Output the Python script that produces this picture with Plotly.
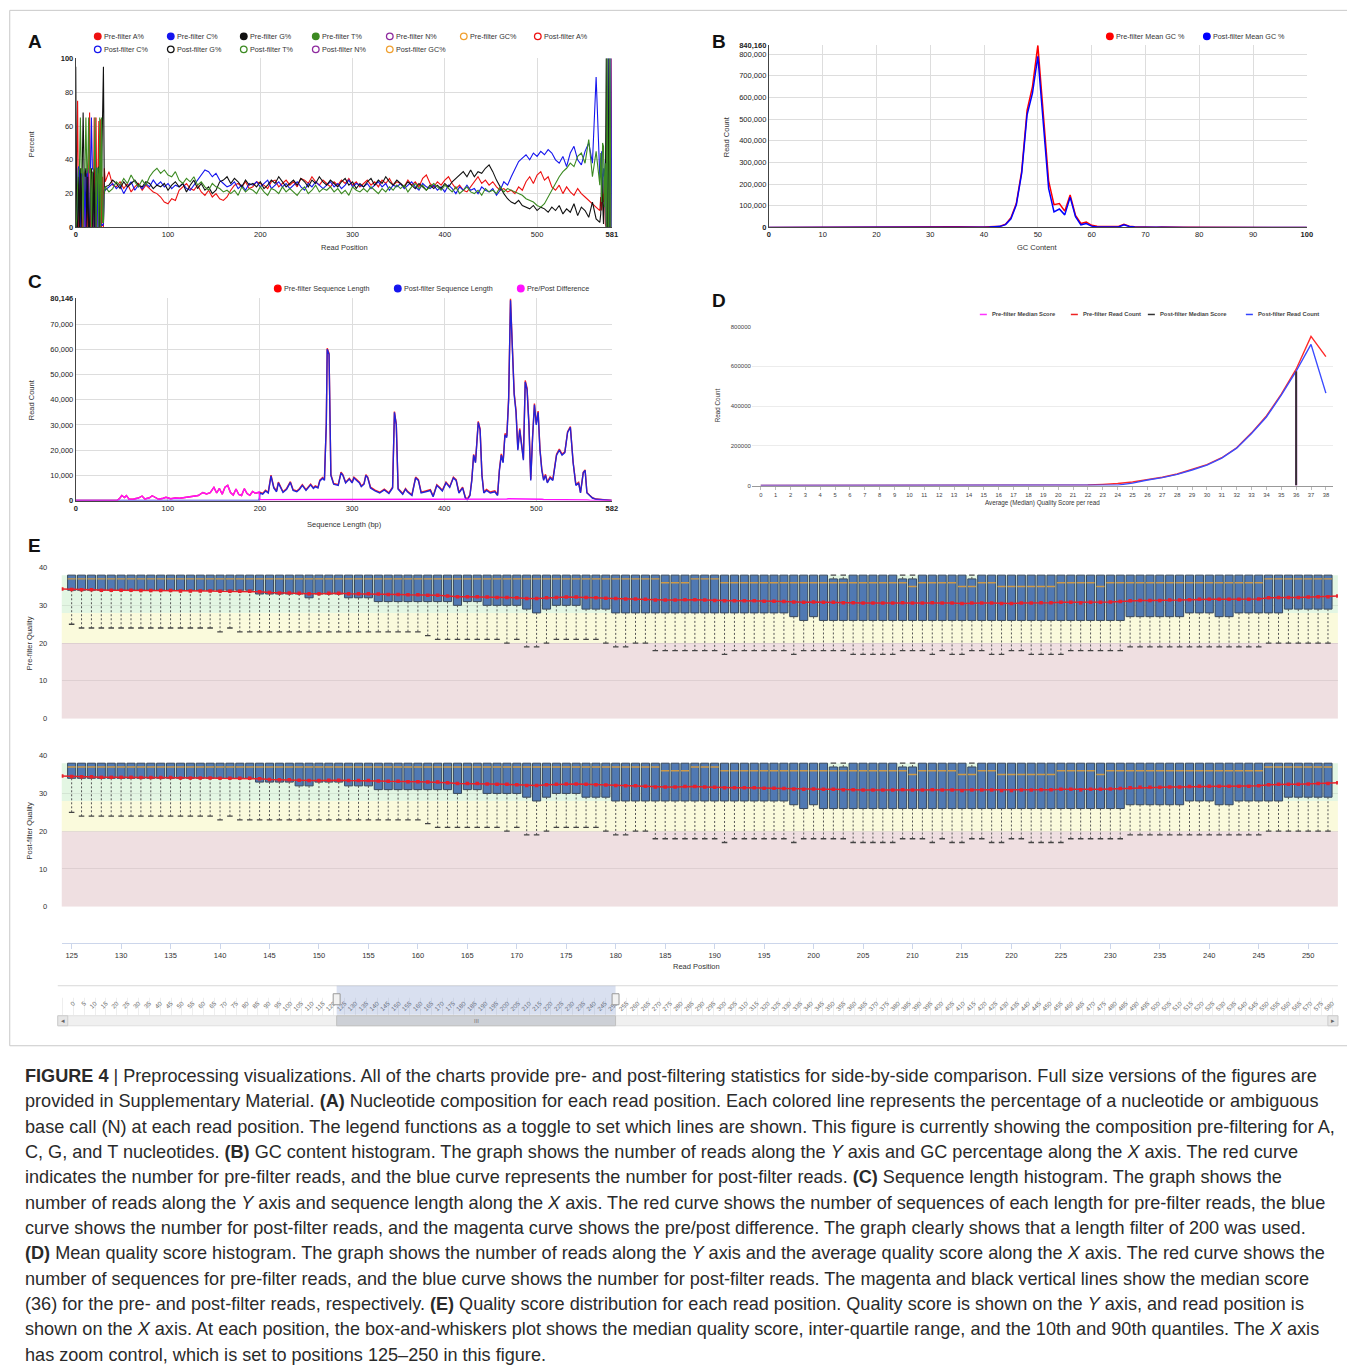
import plotly.graph_objects as go

OFF = 8  # default body margin of the written page
W, H = 1355, 1362
# small correction measured between page pixels and the photographed picture
SX, AX = 0.994, 2.3
SY, AY = 0.993, 3.7
FONT = "Liberation Sans, Arial, Helvetica, sans-serif"
CAP_FONT = "Liberation Sans, Arial, Helvetica, sans-serif"

# ================= Panel A: nucleotide composition (pre-filter) =================
A_POS = list(range(0, 32)) + list(range(32, 569, 4)) + list(range(569, 582))
A_PCT_A = [0, 60, 75, 0, 30, 0, 35, 0, 0, 33, 0, 0, 35, 0, 35, 68, 0, 0, 33, 0, 65, 0, 65, 0, 30, 63, 0, 64, 0, 30, 0, 35,
           27, 33, 25, 24, 27, 23, 26, 21, 24, 26,
           22, 25, 23, 21, 20, 18, 15, 14, 17, 16,
           22, 24, 26, 23, 22, 25, 21, 19, 22, 18,
           20, 17, 16, 18, 22, 25, 26, 24, 27, 23,
           24, 27, 26, 25, 23, 27, 28, 24, 26, 28,
           25, 27, 24, 29, 28, 26, 30, 27, 25, 28,
           26, 24, 27, 25, 28, 26, 29, 25, 27, 24,
           26, 28, 25, 27, 24, 28, 26, 29, 25, 27,
           26, 24, 28, 25, 27, 24, 29, 31, 26, 24,
           27, 25, 28, 30, 26, 23, 25, 22, 21, 24,
           27, 30, 26, 28, 25, 27, 24, 22, 23, 21,
           22, 20, 24, 22, 27, 30, 26, 31, 33, 28,
           30, 24, 22, 25, 20, 24, 21, 19, 23, 20,
           18, 16, 14, 12, 10,
           18, 10, 20, 15, 30, 2, 0, 0, 0, 0, 0, 0, 100]
A_PCT_C = [5, 35, 0, 36, 35, 0, 33, 30, 32, 0, 35, 0, 33, 35, 0, 0, 35, 65, 35, 34, 0, 0, 35, 35, 0, 1, 35, 1, 2, 1, 2, 22,
           22, 24, 26, 23, 25, 20, 24, 27, 22, 25,
           23, 26, 24, 28, 25, 27, 24, 26, 23, 25,
           24, 26, 23, 22, 25, 28, 31, 34, 33, 30,
           32, 28, 26, 24, 25, 27, 23, 25, 22, 26,
           25, 27, 24, 26, 28, 23, 25, 27, 24, 26,
           23, 25, 27, 24, 22, 26, 24, 27, 25, 23,
           25, 27, 24, 26, 23, 25, 28, 24, 26, 25,
           24, 26, 23, 25, 27, 24, 26, 22, 25, 24,
           26, 23, 25, 27, 24, 22, 26, 24, 23, 25,
           22, 24, 21, 25, 23, 20, 24, 22, 25, 22,
           23, 20, 24, 22, 21, 23, 19, 22, 27, 25,
           30, 35, 39, 41, 43, 40, 44, 42, 45, 43,
           46, 44, 40, 38, 42, 36, 44, 48, 40, 37,
           45, 50, 38, 89, 30,
           30, 45, 20, 35, 30, 40, 0, 0, 100, 0, 0, 100, 0]
A_PCT_G = [95, 0, 0, 30, 0, 35, 0, 35, 68, 33, 30, 35, 0, 30, 0, 0, 30, 35, 0, 33, 0, 35, 0, 30, 35, 36, 0, 35, 33, 66, 95, 20,
           24, 25, 28, 26, 23, 27, 24, 26, 28, 25,
           24, 27, 26, 23, 25, 24, 26, 22, 25, 27,
           24, 26, 21, 25, 28, 23, 26, 22, 24, 20,
           22, 27, 28, 30, 26, 29, 27, 24, 28, 25,
           26, 24, 27, 23, 25, 28, 26, 30, 27, 24,
           26, 28, 25, 29, 27, 24, 28, 26, 30, 27,
           25, 28, 26, 24, 27, 29, 25, 27, 23, 26,
           24, 27, 29, 25, 28, 26, 30, 27, 25, 28,
           26, 24, 27, 25, 23, 26, 24, 22, 25, 23,
           25, 23, 26, 24, 27, 29, 31, 33, 30, 34,
           30, 33, 32, 35, 37, 33, 28, 24, 20, 17,
           15, 14, 16, 13, 12, 11, 13, 10, 12, 11,
           9, 12, 10, 13, 8, 11, 9, 14, 7, 12,
           10, 6, 15, 5, 3,
           8, 30, 10, 2, 28, 20, 100, 0, 0, 100, 0, 0, 0]
A_PCT_T = [0, 5, 25, 34, 35, 65, 32, 35, 0, 34, 35, 65, 32, 35, 65, 32, 35, 0, 32, 33, 35, 65, 0, 35, 35, 0, 65, 0, 65, 3, 3, 23,
           24, 21, 23, 27, 25, 29, 26, 31, 27, 24,
           28, 25, 30, 33, 35, 32, 34, 31, 30, 33,
           28, 26, 29, 27, 30, 25, 27, 24, 22, 26,
           24, 23, 21, 22, 20, 22, 19, 24, 21, 23,
           22, 20, 24, 21, 19, 23, 22, 20, 24, 21,
           23, 21, 19, 22, 24, 20, 22, 25, 21, 23,
           22, 24, 21, 23, 20, 22, 19, 24, 22, 21,
           23, 21, 24, 22, 20, 23, 21, 24, 22, 25,
           23, 25, 21, 24, 26, 23, 25, 22, 24, 26,
           24, 22, 25, 23, 21, 24, 20, 22, 24, 21,
           20, 22, 19, 23, 21, 22, 20, 24, 21, 23,
           22, 21, 20, 19, 17, 16, 15, 13, 12, 14,
           18, 22, 26, 30, 33, 35, 38, 36, 42, 44,
           38, 52, 30, 45, 25,
           44, 15, 50, 48, 12, 38, 0, 100, 0, 0, 100, 0, 0]
A_X_TICKS = [0, 100, 200, 300, 400, 500, 581]
A_Y_TICKS = [0, 20, 40, 60, 80, 100]
A_LEGEND_ROW1 = [("Pre-filter A%", "#ee1111", True), ("Pre-filter C%", "#1515ee", True),
                 ("Pre-filter G%", "#111111", True), ("Pre-filter T%", "#3c8a22", True),
                 ("Pre-filter N%", "#8e2a9e", False), ("Pre-filter GC%", "#f0a030", False),
                 ("Post-filter A%", "#ee1111", False)]
A_LEGEND_ROW2 = [("Post-filter C%", "#1515ee", False), ("Post-filter G%", "#111111", False),
                 ("Post-filter T%", "#3c8a22", False), ("Post-filter N%", "#8e2a9e", False),
                 ("Post-filter GC%", "#f0a030", False)]

# ================= Panel B: GC content =================
GC_PCT = list(range(0, 101))
GC_PRE = [0, 0, 0, 0, 0, 0, 0, 0, 0, 0,
          0, 0, 0, 0, 0, 0, 0, 0, 0, 0,
          0, 0, 0, 0, 0, 0, 0, 100, 200, 300,
          400, 500, 800, 1500, 3000, 3500, 2500, 1500, 1500, 2000,
          2500, 3000, 4000, 6000, 15000, 45000, 110000, 260000, 540000, 650000,
          840160, 520000, 215000, 105000, 110000, 75000, 150000, 55000, 18000, 25000,
          10000, 5000, 5500, 6000, 5000, 4500, 14000, 6000, 3000, 2000,
          1500, 1200, 1000, 1500, 2000, 1000, 800, 500, 400, 300,
          200, 200, 100, 100, 100, 0, 0, 0, 0, 0,
          0, 0, 0, 0, 0, 0, 0, 0, 0, 0,
          0]
GC_POST = [0, 0, 0, 0, 0, 0, 0, 0, 0, 0,
           0, 0, 0, 0, 0, 0, 0, 0, 0, 0,
           0, 0, 0, 0, 0, 0, 0, 100, 150, 200,
           300, 400, 600, 1200, 2500, 3000, 2000, 1200, 1200, 1500,
           2000, 2500, 3500, 5000, 13000, 40000, 105000, 250000, 520000, 620000,
           790000, 490000, 180000, 72000, 85000, 58000, 140000, 50000, 12000, 18000,
           6000, 2000, 2500, 3000, 2500, 2500, 12000, 4000, 2000, 1500,
           1000, 900, 800, 1200, 1500, 800, 600, 400, 300, 200,
           100, 100, 100, 0, 0, 0, 0, 0, 0, 0,
           0, 0, 0, 0, 0, 0, 0, 0, 0, 0,
           0]
B_X_TICKS = [0, 10, 20, 30, 40, 50, 60, 70, 80, 90, 100]
B_Y_TICKS = [0, 100000, 200000, 300000, 400000, 500000, 600000, 700000, 800000, 840160]

# ================= Panel C: sequence length =================
C_LEN = [0, 45, 48, 50, 53, 55, 58, 63, 68, 72,
         75, 80, 83, 86, 90, 95, 98, 103, 108, 113,
         118, 123, 128, 133, 138, 142, 146, 150, 153, 156,
         159, 162, 165, 168, 171, 174, 177, 180, 183, 186,
         189, 192, 195, 199, 200, 203, 206, 209, 212, 215,
         218, 220, 225, 229, 233, 236, 240, 243, 246, 250,
         255, 258, 260, 263, 265, 268, 270, 272, 273, 275,
         277, 280, 285, 288, 290, 293, 297, 300, 302, 305,
         308, 310, 313, 315, 317, 320, 325, 330, 335, 340,
         344, 346, 348, 350, 355, 358, 360, 365, 369, 372,
         375, 380, 385, 388, 392, 395, 398, 402, 406, 410,
         413, 416, 420, 423, 425, 428, 430, 432, 434, 437,
         439, 441, 443, 446, 450, 455, 458, 460, 462, 464,
         466, 468, 470, 472, 474, 476, 478, 480, 482, 484,
         486, 488, 490, 492, 494, 496, 498, 500, 502, 504,
         506, 508, 510, 512, 515, 518, 522, 525, 528, 531,
         534, 537, 540, 543, 546, 548, 551, 553, 555, 558,
         561, 565, 570, 575, 582]
C_POST = [0, 0, 0, 0, 0, 0, 0, 0, 0, 0,
          0, 0, 0, 0, 0, 0, 0, 0, 0, 0,
          0, 0, 0, 0, 0, 0, 0, 0, 0, 0,
          0, 0, 0, 0, 0, 0, 0, 0, 0, 0,
          0, 0, 0, 0, 3000, 2500, 3800, 3000, 9800, 5000,
          3500, 7000, 3200, 4500, 7200, 4000, 3500, 4500, 6000, 4000,
          6200, 4800, 5500, 5000, 7800, 8800, 8000, 30000, 60000, 58000,
          10000, 6500, 6000, 11000, 10000, 7000, 8500, 7000, 9000, 8000,
          7000, 5500, 6500, 10000, 9000, 5000, 3800, 3000, 4200, 2800,
          5000, 35000, 30000, 4500, 2500, 4500, 3500, 2000, 9000, 8000,
          3000, 3500, 4000, 1500, 6000, 5000, 3800, 7000, 5200, 9000,
          8000, 3000, 5000, 1000, 300, 2000, 8000, 18000, 15000, 31000,
          28000, 10000, 3000, 4000, 3000, 3500, 2000, 12000, 18000, 15000,
          26000, 25000, 40000, 79446, 60000, 42000, 35000, 20000, 28000, 22000,
          16000, 47000, 44000, 30000, 8000, 25000, 38000, 30000, 35000, 20000,
          12000, 8000, 10000, 7000, 9000, 8000, 18000, 20000, 18000, 19000,
          27000, 29000, 15000, 6000, 7000, 3000, 11000, 12000, 3000, 2000,
          1000, 500, 300, 200, 0]
C_DIFF = [0, 0, 1000, 2000, 1200, 2000, 500, 600, 1000, 1800,
          600, 1100, 1900, 1400, 500, 900, 1300, 700, 1000, 900,
          1200, 1300, 1700, 2000, 3200, 2600, 3100, 5200, 3000, 4800,
          2500, 5300, 6000, 3200, 2200, 4600, 2400, 2000, 4700, 2800,
          2100, 3600, 2900, 3400, 300, 300, 300, 300, 300, 300,
          300, 300, 300, 300, 300, 300, 300, 300, 300, 300,
          300, 300, 300, 300, 300, 300, 300, 300, 400, 400,
          300, 300, 300, 300, 300, 300, 300, 300, 300, 300,
          300, 300, 300, 300, 300, 300, 300, 300, 300, 300,
          300, 300, 300, 300, 300, 300, 300, 300, 300, 300,
          300, 300, 300, 300, 300, 300, 300, 300, 300, 300,
          300, 300, 300, 300, 300, 300, 300, 300, 400, 400,
          400, 400, 400, 400, 400, 400, 400, 400, 500, 500,
          600, 600, 700, 700, 700, 700, 700, 600, 600, 600,
          600, 600, 600, 600, 500, 500, 500, 500, 500, 500,
          500, 400, 400, 400, 400, 400, 400, 400, 400, 300,
          300, 300, 300, 300, 200, 200, 200, 200, 200, 100,
          100, 100, 100, 0, 0]
C_PRE = [0, 0, 1000, 2000, 1200, 2000, 500, 600, 1000, 1800,
         600, 1100, 1900, 1400, 500, 900, 1300, 700, 1000, 900,
         1200, 1300, 1700, 2000, 3200, 2600, 3100, 5200, 3000, 4800,
         2500, 5300, 6000, 3200, 2200, 4600, 2400, 2000, 4700, 2800,
         2100, 3600, 2900, 3400, 3300, 2800, 4100, 3300, 10100, 5300,
         3800, 7300, 3500, 4800, 7500, 4300, 3800, 4800, 6300, 4300,
         6500, 5100, 5800, 5300, 8100, 9100, 8300, 30300, 60400, 58400,
         10300, 6800, 6300, 11300, 10300, 7300, 8800, 7300, 9300, 8300,
         7300, 5800, 6800, 10300, 9300, 5300, 4100, 3300, 4500, 3100,
         5300, 35300, 30300, 4800, 2800, 4800, 3800, 2300, 9300, 8300,
         3300, 3800, 4300, 1800, 6300, 5300, 4100, 7300, 5500, 9300,
         8300, 3300, 5300, 1300, 600, 2300, 8300, 18300, 15400, 31400,
         28400, 10400, 3400, 4400, 3400, 3900, 2400, 12400, 18500, 15500,
         26600, 25600, 40700, 80146, 60700, 42700, 35700, 20600, 28600, 22600,
         16600, 47600, 44600, 30600, 8500, 25500, 38500, 30500, 35500, 20500,
         12500, 8400, 10400, 7400, 9400, 8400, 18400, 20400, 18400, 19300,
         27300, 29300, 15300, 6300, 7200, 3200, 11200, 12200, 3200, 2100,
         1100, 600, 400, 200, 0]
C_X_TICKS = [0, 100, 200, 300, 400, 500, 582]
C_Y_TICKS = [0, 10000, 20000, 30000, 40000, 50000, 60000, 70000, 80146]

# ================= Panel D: mean quality score =================
D_SCORE = list(range(0, 39))
D_PRE = [0, 0, 0, 0, 0, 0, 0, 0, 0, 0, 0, 0, 0, 0, 0, 0, 0, 0, 0, 0,
         200, 1000, 3000, 6000, 10000, 18000, 30000, 42000, 58000, 80000,
         105000, 140000, 190000, 265000, 350000, 460000, 585000, 750000, 648000]
D_POST = [0, 0, 0, 0, 0, 0, 0, 0, 0, 0, 0, 0, 0, 0, 0, 0, 0, 0, 0, 0,
          0, 0, 0, 300, 2000, 12000, 28000, 40000, 56000, 78000,
          103000, 138000, 188000, 262000, 345000, 455000, 575000, 710000, 465000]
D_MEDIAN_PRE = 36
D_MEDIAN_POST = 36
D_Y_TICKS = [0, 200000, 400000, 600000, 800000]
D_LEGEND = [("Pre-filter Median Score", "#ff33ff"), ("Pre-filter Read Count", "#ee2222"),
            ("Post-filter Median Score", "#333333"), ("Post-filter Read Count", "#3344ff")]

# ================= Panel E: quality per read position (positions 125-252) =================
E_POS = list(range(125, 253))
E_MEAN_POS = list(range(124, 254))
PRE_W90 = [38, 38, 38, 38, 38, 38, 38, 38, 38, 38, 38, 38, 38, 38, 38, 38, 38, 38, 38, 38,
           38, 38, 38, 38, 38, 38, 38, 38, 38, 38, 38, 38, 38, 38, 38, 38, 38, 38, 38, 38,
           38, 38, 38, 38, 38, 38, 38, 38, 38, 38, 38, 38, 38, 38, 38, 38, 38, 38, 38, 38,
           38, 38, 38, 38, 38, 38, 38, 38, 38, 38, 38, 38, 38, 38, 38, 38, 38, 38, 38, 38,
           38, 38, 38, 38, 38, 38, 38, 38, 38, 38, 38, 38, 38, 38, 38, 38, 38, 38, 38, 38,
           38, 38, 38, 38, 38, 38, 38, 38, 38, 38, 38, 38, 38, 38, 38, 38, 38, 38, 38, 38,
           38, 38, 38, 38, 38, 38, 38, 38]
PRE_Q3 = [38, 38, 38, 38, 38, 38, 38, 38, 38, 38,
          38, 38, 38, 38, 38, 38, 38, 38, 38, 38,
          38, 38, 38, 38, 38, 38, 38, 38, 38, 38,
          38, 38, 38, 38, 38, 38, 38, 38, 38, 38,
          38, 38, 38, 38, 38, 38, 38, 38, 38, 38,
          38, 38, 38, 38, 38, 38, 38, 38, 38, 38,
          38, 38, 38, 38, 38, 38, 38, 38, 38, 38,
          38, 38, 38, 38, 38, 38, 38, 37, 37, 38,
          38, 38, 38, 38, 37, 37, 38, 38, 38, 38,
          38, 37, 38, 38, 38, 38, 38, 38, 38, 38,
          38, 38, 38, 38, 38, 38, 38, 38, 38, 38,
          38, 38, 38, 38, 38, 38, 38, 38, 38, 38,
          38, 38, 38, 38, 38, 38, 38, 38]
PRE_MED = [37, 37, 37, 37, 37, 37, 37, 37, 37, 37,
           37, 37, 37, 37, 37, 37, 37, 37, 37, 37,
           37, 37, 37, 37, 37, 37, 37, 37, 37, 37,
           37, 37, 37, 37, 37, 37, 37, 37, 37, 37,
           37, 37, 37, 37, 37, 37, 37, 37, 37, 37,
           37, 37, 37, 37, 37, 37, 37, 37, 37, 37,
           36, 36, 36, 37, 37, 37, 36, 36, 36, 36,
           36, 36, 36, 36, 36, 36, 36, 36, 36, 36,
           36, 36, 36, 36, 36, 35, 36, 36, 36, 36,
           35, 35, 36, 36, 35, 35, 35, 35, 35, 35,
           36, 36, 36, 36, 35, 36, 36, 36, 36, 36,
           36, 36, 36, 36, 36, 36, 36, 36, 36, 36,
           36, 37, 37, 37, 37, 37, 37, 37]
PRE_Q1 = [34, 34, 34, 34, 34, 34, 34, 34, 34, 34,
          34, 34, 34, 34, 34, 34, 34, 34, 34, 33,
          33, 33, 33, 33, 32, 33, 33, 33, 32, 32,
          32, 31, 31, 31, 31, 31, 31, 31, 31, 30,
          31, 31, 30, 30, 30, 30, 29, 28, 29, 30,
          30, 30, 29, 29, 29, 28, 28, 28, 28, 28,
          28, 28, 28, 28, 28, 28, 28, 28, 28, 28,
          28, 28, 28, 27, 26, 27, 26, 26, 26, 26,
          26, 26, 26, 26, 26, 26, 26, 26, 26, 26,
          26, 26, 26, 26, 26, 26, 26, 26, 26, 26,
          26, 26, 26, 26, 26, 26, 26, 27, 27, 27,
          27, 27, 27, 28, 28, 28, 27, 27, 28, 28,
          28, 28, 28, 29, 29, 29, 29, 29]
PRE_W10 = [25, 24, 24, 24, 24, 24, 24, 24, 24, 24,
           24, 24, 24, 24, 24, 23, 24, 23, 23, 23,
           23, 23, 23, 23, 23, 23, 23, 23, 23, 23,
           23, 23, 23, 23, 23, 23, 22, 21, 21, 21,
           21, 21, 21, 21, 20, 21, 19, 19, 20, 21,
           21, 21, 21, 21, 20, 19, 19, 20, 20, 18,
           18, 18, 18, 18, 18, 18, 17, 18, 18, 18,
           18, 18, 18, 17, 18, 18, 18, 18, 18, 17,
           17, 17, 17, 17, 18, 18, 18, 17, 18, 17,
           17, 18, 18, 17, 17, 18, 18, 17, 17, 17,
           17, 18, 18, 18, 18, 18, 18, 19, 19, 19,
           19, 19, 19, 19, 19, 19, 19, 19, 19, 19,
           19, 20, 20, 20, 20, 20, 20, 20]
PRE_MEAN = [34.3, 34.2, 34.1, 34.1, 34.0, 34.0, 34.0, 34.0, 33.9, 33.9,
            33.9, 33.9, 33.8, 33.8, 33.8, 33.8, 33.7, 33.7, 33.7, 33.7,
            33.6, 33.4, 33.3, 33.3, 33.2, 33.1, 33.1, 33.2, 33.2, 33.1,
            33.1, 33.1, 33.0, 32.9, 32.9, 32.8, 32.8, 32.7, 32.7, 32.5,
            32.3, 32.3, 32.3, 32.2, 32.1, 32.1, 32.0, 31.8, 31.8, 32.0,
            32.1, 32.2, 32.2, 32.1, 32.0, 31.9, 31.8, 31.7, 31.7, 31.6,
            31.4, 31.4, 31.4, 31.5, 31.5, 31.4, 31.3, 31.2, 31.2, 31.2,
            31.2, 31.1, 31.1, 31.0, 30.9, 30.8, 30.9, 30.8, 30.8, 30.7,
            30.7, 30.6, 30.6, 30.6, 30.6, 30.7, 30.6, 30.6, 30.7, 30.6,
            30.6, 30.5, 30.6, 30.6, 30.6, 30.5, 30.5, 30.6, 30.6, 30.7,
            30.7, 30.8, 30.8, 30.7, 30.8, 30.8, 30.9, 31.0, 31.2, 31.3,
            31.3, 31.3, 31.4, 31.4, 31.5, 31.6, 31.6, 31.6, 31.6, 31.6,
            31.6, 31.7, 32.0, 32.1, 32.1, 32.1, 32.2, 32.3, 32.3, 32.5]

POST_W90 = [38, 38, 38, 38, 38, 38, 38, 38, 38, 38, 38, 38, 38, 38, 38, 38, 38, 38, 38, 38,
            38, 38, 38, 38, 38, 38, 38, 38, 38, 38, 38, 38, 38, 38, 38, 38, 38, 38, 38, 38,
            38, 38, 38, 38, 38, 38, 38, 38, 38, 38, 38, 38, 38, 38, 38, 38, 38, 38, 38, 38,
            38, 38, 38, 38, 38, 38, 38, 38, 38, 38, 38, 38, 38, 38, 38, 38, 38, 38, 38, 38,
            38, 38, 38, 38, 38, 38, 38, 38, 38, 38, 38, 38, 38, 38, 38, 38, 38, 38, 38, 38,
            38, 38, 38, 38, 38, 38, 38, 38, 38, 38, 38, 38, 38, 38, 38, 38, 38, 38, 38, 38,
            38, 38, 38, 38, 38, 38, 38, 38]
POST_Q3 = [38, 38, 38, 38, 38, 38, 38, 38, 38, 38,
           38, 38, 38, 38, 38, 38, 38, 38, 38, 38,
           38, 38, 38, 38, 38, 38, 38, 38, 38, 38,
           38, 38, 38, 38, 38, 38, 38, 38, 38, 38,
           38, 38, 38, 38, 38, 38, 38, 38, 38, 38,
           38, 38, 38, 38, 38, 38, 38, 38, 38, 38,
           38, 38, 38, 38, 38, 38, 38, 38, 38, 38,
           38, 38, 38, 38, 38, 38, 38, 37, 37, 38,
           38, 38, 38, 38, 37, 37, 38, 38, 38, 38,
           38, 37, 38, 38, 38, 38, 38, 38, 38, 38,
           38, 38, 38, 38, 38, 38, 38, 38, 38, 38,
           38, 38, 38, 38, 38, 38, 38, 38, 38, 38,
           38, 38, 38, 38, 38, 38, 38, 38]
POST_MED = [37, 37, 37, 37, 37, 37, 37, 37, 37, 37,
            37, 37, 37, 37, 37, 37, 37, 37, 37, 37,
            37, 37, 37, 37, 37, 37, 37, 37, 37, 37,
            37, 37, 37, 37, 37, 37, 37, 37, 37, 37,
            37, 37, 37, 37, 37, 37, 37, 37, 37, 37,
            37, 37, 37, 37, 37, 37, 37, 37, 37, 37,
            36, 36, 36, 37, 37, 37, 36, 36, 36, 36,
            36, 36, 36, 36, 36, 36, 36, 36, 36, 36,
            36, 36, 36, 36, 36, 35, 36, 36, 36, 36,
            35, 35, 36, 36, 35, 35, 35, 35, 35, 35,
            36, 36, 36, 36, 35, 36, 36, 36, 36, 36,
            36, 36, 36, 36, 36, 36, 36, 36, 36, 36,
            36, 37, 37, 37, 37, 37, 37, 37]
POST_Q1 = [34, 34, 34, 34, 34, 34, 34, 34, 34, 34,
           34, 34, 34, 34, 34, 34, 34, 34, 34, 33,
           33, 33, 33, 32, 32, 33, 33, 33, 32, 32,
           32, 31, 31, 31, 31, 31, 31, 31, 31, 30,
           31, 31, 30, 30, 30, 30, 29, 28, 29, 30,
           30, 30, 29, 29, 29, 28, 28, 28, 28, 28,
           28, 28, 28, 28, 28, 28, 28, 28, 28, 28,
           28, 28, 28, 27, 26, 27, 26, 26, 26, 26,
           26, 26, 26, 26, 26, 26, 26, 26, 26, 26,
           26, 26, 26, 26, 26, 26, 26, 26, 26, 26,
           26, 26, 26, 26, 26, 26, 26, 27, 27, 27,
           27, 27, 27, 28, 28, 28, 27, 27, 28, 28,
           28, 28, 28, 29, 29, 29, 29, 29]
POST_W10 = [25, 24, 24, 24, 24, 24, 24, 24, 24, 24,
            24, 24, 24, 24, 24, 23, 24, 23, 23, 23,
            23, 23, 23, 23, 23, 23, 23, 23, 23, 23,
            23, 23, 23, 23, 23, 23, 22, 21, 21, 21,
            21, 21, 21, 21, 20, 21, 19, 19, 20, 21,
            21, 21, 21, 21, 20, 19, 19, 20, 20, 18,
            18, 18, 18, 18, 18, 18, 17, 18, 18, 18,
            18, 18, 18, 17, 18, 18, 18, 18, 18, 17,
            17, 17, 17, 17, 18, 18, 18, 17, 18, 17,
            17, 18, 18, 17, 17, 18, 18, 17, 17, 17,
            17, 18, 18, 18, 18, 18, 18, 19, 19, 19,
            19, 19, 19, 19, 19, 19, 19, 19, 19, 19,
            19, 20, 20, 20, 20, 20, 20, 20]
POST_MEAN = [34.6, 34.5, 34.4, 34.4, 34.3, 34.3, 34.3, 34.3, 34.2, 34.2,
             34.2, 34.2, 34.1, 34.1, 34.1, 34.1, 34.0, 34.0, 34.0, 34.0,
             33.9, 33.7, 33.6, 33.6, 33.5, 33.4, 33.4, 33.5, 33.5, 33.4,
             33.4, 33.4, 33.3, 33.2, 33.2, 33.1, 33.1, 33.0, 33.0, 32.8,
             32.6, 32.6, 32.6, 32.5, 32.4, 32.4, 32.3, 32.1, 32.1, 32.3,
             32.4, 32.5, 32.5, 32.4, 32.3, 32.2, 32.1, 32.0, 32.0, 31.9,
             31.7, 31.7, 31.7, 31.8, 31.8, 31.7, 31.6, 31.5, 31.5, 31.5,
             31.5, 31.4, 31.4, 31.3, 31.2, 31.1, 31.2, 31.1, 31.1, 31.0,
             31.0, 30.9, 30.9, 30.9, 30.9, 31.0, 30.9, 30.9, 31.0, 30.9,
             30.9, 30.8, 30.9, 30.9, 30.9, 30.8, 30.8, 30.9, 30.9, 31.0,
             31.0, 31.1, 31.1, 31.0, 31.1, 31.1, 31.2, 31.3, 31.5, 31.6,
             31.6, 31.6, 31.7, 31.7, 31.8, 31.9, 31.9, 31.9, 31.9, 31.9,
             31.9, 32.0, 32.3, 32.4, 32.4, 32.4, 32.5, 32.6, 32.6, 32.8]
E_Y_TICKS = [0, 10, 20, 30, 40]
E_X_TICKS = list(range(125, 251, 5))
E_BANDS = [(0, 20, "#efdfe1"), (20, 28, "#fafadc"), (28, 38, "#e3f6e3")]
NAV_TICKS = list(range(0, 581, 5))
NAV_SELECTED = (121.3, 249.8)

CAPTION_LINES = [
    "<b>FIGURE 4</b> | Preprocessing visualizations. All of the charts provide pre- and post-filtering statistics for side-by-side comparison. Full size versions of the figures are",
    "provided in Supplementary Material. <b>(A)</b> Nucleotide composition for each read position. Each colored line represents the percentage of a nucleotide or ambiguous",
    "base call (N) at each read position. The legend functions as a toggle to set which lines are shown. This figure is currently showing the composition pre-filtering for A,",
    "C, G, and T nucleotides. <b>(B)</b> GC content histogram. The graph shows the number of reads along the <i>Y</i> axis and GC percentage along the <i>X</i> axis. The red curve",
    "indicates the number for pre-filter reads, and the blue curve represents the number for post-filter reads. <b>(C)</b> Sequence length histogram. The graph shows the",
    "number of reads along the <i>Y</i> axis and sequence length along the <i>X</i> axis. The red curve shows the number of sequences of each length for pre-filter reads, the blue",
    "curve shows the number for post-filter reads, and the magenta curve shows the pre/post difference. The graph clearly shows that a length filter of 200 was used.",
    "<b>(D)</b> Mean quality score histogram. The graph shows the number of reads along the <i>Y</i> axis and the average quality score along the <i>X</i> axis. The red curve shows the",
    "number of sequences for pre-filter reads, and the blue curve shows the number for post-filter reads. The magenta and black vertical lines show the median score",
    "(36) for the pre- and post-filter reads, respectively. <b>(E)</b> Quality score distribution for each read position. Quality score is shown on the <i>Y</i> axis, and read position is",
    "shown on the <i>X</i> axis. At each position, the box-and-whiskers plot shows the median quality score, inter-quartile range, and the 10th and 90th quantiles. The <i>X</i> axis",
    "has zoom control, which is set to positions 125\u2013250 in this figure.",
]


# ================= helpers (target pixels -> figure fractions) =================
def PX(px):
    return ((px - AX) / SX - OFF) / W


def PY(py):
    return 1 - ((py - AY) / SY - OFF) / H


def xdom(a, b):
    return [PX(a), PX(b)]


def ydom(top, bottom):
    return [PY(bottom), PY(top)]


fig = go.Figure()


def add_line(x, y, color, xa, ya, width=1.2, dash=None, mode="lines", marker=None):
    fig.add_trace(go.Scatter(x=x, y=y, mode=mode, line=dict(color=color, width=width, dash=dash),
                             marker=marker, xaxis=xa, yaxis=ya, hoverinfo="skip",
                             showlegend=False, connectgaps=False))


def fmt_int(v):
    return "{:,}".format(v)


def bold_ends(vals, labels):
    out = []
    for i, lab in enumerate(labels):
        out.append("<b>%s</b>" % lab if i in (0, len(vals) - 1) else lab)
    return out


# ---- Panel A traces
for series, color in [(A_PCT_A, "#ee1111"), (A_PCT_C, "#1515ee"), (A_PCT_G, "#111111"), (A_PCT_T, "#3c8a22")]:
    add_line(A_POS, series, color, "x", "y", 1.1)

# ---- Panel B traces
add_line(GC_PCT, GC_PRE, "#ff0000", "x2", "y2", 1.5)
add_line(GC_PCT, GC_POST, "#0000ff", "x2", "y2", 1.5)

# ---- Panel C traces
add_line(C_LEN, C_PRE, "#ff2020", "x3", "y3", 1.4)
add_line(C_LEN, C_POST, "#2323d8", "x3", "y3", 1.4)
add_line(C_LEN, C_DIFF, "#ff10ff", "x3", "y3", 1.4)

# ---- Panel D traces
add_line(D_SCORE, D_PRE, "#ff2a2a", "x4", "y4", 1.4)
add_line(D_SCORE, D_POST, "#3a4bff", "x4", "y4", 1.4)
med_top = D_POST[D_SCORE.index(D_MEDIAN_POST)]
add_line([D_MEDIAN_PRE, D_MEDIAN_PRE], [0, med_top], "#ff33ff", "x4", "y4", 2)
add_line([D_MEDIAN_POST, D_MEDIAN_POST], [0, med_top], "#333333", "x4", "y4", 2)


# ---- Panel E traces
def add_boxes(xa, ya, w90, q3, med, q1, w10, mean):
    fig.add_trace(go.Bar(x=E_POS, y=[b - a for a, b in zip(q1, q3)], base=q1, width=0.82,
                         marker=dict(color="#5079b3", line=dict(color="#38485c", width=1)),
                         xaxis=xa, yaxis=ya, hoverinfo="skip", showlegend=False))
    wx, wy, cx, cy, mx, my = [], [], [], [], [], []
    for p, hi, a3, m, a1, lo in zip(E_POS, w90, q3, med, q1, w10):
        wx += [p, p, None]
        wy += [a1, lo, None]
        cx += [p - 0.28, p + 0.28, None]
        cy += [lo, lo, None]
        if hi > a3:
            wx += [p, p, None]
            wy += [a3, hi, None]
            cx += [p - 0.28, p + 0.28, None]
            cy += [hi, hi, None]
        mx += [p - 0.41, p + 0.41, None]
        my += [m, m, None]
    add_line(wx, wy, "#555555", xa, ya, 1, dash="2px,2px")
    add_line(cx, cy, "#444444", xa, ya, 1.3)
    add_line(mx, my, "#cf9a45", xa, ya, 1.4)
    add_line(E_MEAN_POS, mean, "#e8202a", xa, ya, 1.5, mode="lines+markers",
             marker=dict(symbol="square", size=3.5, color="#e8202a"))


add_boxes("x5", "y5", PRE_W90, PRE_Q3, PRE_MED, PRE_Q1, PRE_W10, PRE_MEAN)
add_boxes("x6", "y6", POST_W90, POST_Q3, POST_MED, POST_Q1, POST_W10, POST_MEAN)

# invisible anchors for navigator axes
add_line([0], [0], "rgba(0,0,0,0)", "x7", "y7", 0.1)
add_line([0], [0], "rgba(0,0,0,0)", "x8", "y8", 0.1)

# ================= axes =================
TF = dict(family=FONT, size=7.5, color="#222")
GRID = "#dddddd"


def hc_x(domain, rng, vals, text, anchor):
    return dict(domain=domain, range=rng, tickvals=vals, ticktext=text, anchor=anchor, showgrid=True,
                gridcolor=GRID, gridwidth=1.2, zeroline=False, showline=True, linecolor="#444",
                linewidth=1, ticks="", tickfont=TF, fixedrange=True)


layout = dict(
    width=W, height=H, margin=dict(l=0, r=0, t=0, b=0), paper_bgcolor="white", plot_bgcolor="white",
    showlegend=False, font=dict(family=FONT, color="#333"), hovermode=False, barmode="overlay",
)

layout["xaxis"] = hc_x(xdom(76, 612), [0, 581], A_X_TICKS, bold_ends(A_X_TICKS, [str(v) for v in A_X_TICKS]), "y")
layout["yaxis"] = hc_x(ydom(58, 227), [0, 100], A_Y_TICKS, bold_ends(A_Y_TICKS, [str(v) for v in A_Y_TICKS]), "x")
layout["xaxis2"] = hc_x(xdom(769, 1307), [0, 100], B_X_TICKS, bold_ends(B_X_TICKS, [str(v) for v in B_X_TICKS]), "y2")
layout["yaxis2"] = hc_x(ydom(45, 227), [0, 840160], B_Y_TICKS, bold_ends(B_Y_TICKS, [fmt_int(v) for v in B_Y_TICKS]), "x2")
layout["xaxis3"] = hc_x(xdom(76, 612), [0, 582], C_X_TICKS, bold_ends(C_X_TICKS, [str(v) for v in C_X_TICKS]), "y3")
layout["yaxis3"] = hc_x(ydom(298, 500), [0, 80146], C_Y_TICKS, bold_ends(C_Y_TICKS, [fmt_int(v) for v in C_Y_TICKS]), "x3")

layout["xaxis4"] = dict(domain=xdom(752, 1333), range=[-0.6, 38.47], anchor="y4", tickvals=D_SCORE,
                        ticktext=[str(v) for v in D_SCORE], showgrid=False, zeroline=False, showline=True,
                        linecolor="#999", ticks="outside", ticklen=3, tickcolor="#bbb",
                        tickfont=dict(family=FONT, size=5.8, color="#444"), fixedrange=True)
layout["yaxis4"] = dict(domain=ydom(326, 485), range=[0, 800000], anchor="x4", tickvals=D_Y_TICKS,
                        ticktext=[str(v) for v in D_Y_TICKS], showgrid=True, gridcolor="#ececec",
                        zeroline=False, showline=False, ticks="", tickfont=dict(family=FONT, size=6, color="#444"),
                        fixedrange=True)

E_YT = dict(range=[0, 40], tickvals=E_Y_TICKS, ticktext=[str(v) for v in E_Y_TICKS], showgrid=True,
            gridcolor="rgba(0,0,0,0.07)", zeroline=False, showline=False, ticks="outside", ticklen=12,
            tickcolor="rgba(0,0,0,0)", tickfont=dict(family=FONT, size=7.5, color="#333"), fixedrange=True)
layout["xaxis5"] = dict(domain=xdom(62, 1338), range=[124, 253], anchor="y5", showticklabels=False,
                        showgrid=False, zeroline=False, showline=False, ticks="", fixedrange=True)
layout["yaxis5"] = dict(domain=ydom(567, 718), anchor="x5", **E_YT)
layout["xaxis6"] = dict(domain=xdom(62, 1338), range=[124, 253], anchor="free", position=PY(942),
                        tickvals=E_X_TICKS, ticktext=[str(v) for v in E_X_TICKS], showgrid=False,
                        zeroline=False, showline=True, linecolor="#ccd6eb", ticks="outside", ticklen=5,
                        tickcolor="#ccd6eb", tickfont=dict(family=FONT, size=7.5, color="#333"), fixedrange=True)
layout["yaxis6"] = dict(domain=ydom(755, 906), anchor="x6", **E_YT)

layout["xaxis7"] = dict(domain=xdom(58, 1338), range=[-7.2, 582.6], anchor="y7", tick0=0, dtick=5,
                        showgrid=True, gridcolor="#eeeeee", showticklabels=False, zeroline=False,
                        showline=False, ticks="", fixedrange=True)
layout["yaxis7"] = dict(domain=ydom(985, 1014), range=[0, 1], anchor="x7", visible=False, fixedrange=True)
layout["xaxis8"] = dict(domain=xdom(58, 1338), range=[-7.2, 582.6], anchor="y8", tickvals=NAV_TICKS,
                        ticktext=[str(v) for v in NAV_TICKS], tickangle=-45, showgrid=False, zeroline=False,
                        showline=False, ticks="", tickfont=dict(family=FONT, size=6.3, color="#666"),
                        fixedrange=True)
layout["yaxis8"] = dict(domain=ydom(985, 997), range=[0, 1], anchor="x8", visible=False, fixedrange=True)

# ================= shapes =================
shapes = []
for ya in ("y5", "y6"):
    xref = "x5 domain" if ya == "y5" else "x6 domain"
    for lo, hi, col in E_BANDS:
        shapes.append(dict(type="rect", xref=xref, yref=ya, x0=0, x1=1, y0=lo, y1=hi,
                           fillcolor=col, line=dict(width=0), layer="below"))

# outer frame of the figure image
shapes.append(dict(type="rect", xref="paper", yref="paper", x0=PX(10), x1=PX(1353), y0=PY(1045), y1=PY(10),
                   line=dict(color="#c9c9c9", width=1), fillcolor="rgba(0,0,0,0)"))

# navigator
shapes.append(dict(type="line", xref="paper", yref="paper", x0=PX(58), x1=PX(1338), y0=PY(985), y1=PY(985),
                   line=dict(color="#d8d8d8", width=1)))
shapes.append(dict(type="rect", xref="x7", yref="paper", x0=NAV_SELECTED[0], x1=NAV_SELECTED[1],
                   y0=PY(1014), y1=PY(985), fillcolor="rgba(102,133,194,0.25)", line=dict(width=0)))
for hx in NAV_SELECTED:
    shapes.append(dict(type="rect", xref="x7", yref="paper", x0=hx - 1.6, x1=hx + 1.6,
                       y0=PY(1004), y1=PY(993), fillcolor="#f2f2f2", line=dict(color="#999", width=1)))
# scrollbar
shapes.append(dict(type="rect", xref="paper", yref="paper", x0=PX(58), x1=PX(1338), y0=PY(1025), y1=PY(1015),
                   fillcolor="#f0f0f0", line=dict(color="#e0e0e0", width=1)))
shapes.append(dict(type="rect", xref="x7", yref="paper", x0=NAV_SELECTED[0], x1=NAV_SELECTED[1],
                   y0=PY(1025), y1=PY(1015), fillcolor="#cdd0d6", line=dict(color="#c0c0c0", width=1)))
for bx0 in (58, 1328):
    shapes.append(dict(type="rect", xref="paper", yref="paper", x0=PX(bx0), x1=PX(bx0 + 10), y0=PY(1025),
                       y1=PY(1015), fillcolor="#e6e6e6", line=dict(color="#cccccc", width=1)))

annotations = []


def text(x, y, s, size=7.5, color="#222", anchor="left", bold=False, angle=0, family=FONT, yanchor="middle"):
    annotations.append(dict(x=PX(x), y=PY(y), xref="paper", yref="paper", text=("<b>%s</b>" % s) if bold else s,
                            showarrow=False, xanchor=anchor, yanchor=yanchor, textangle=angle,
                            font=dict(family=family, size=size, color=color)))


def circle_item(cx, cy, color, filled, label, size=7.2):
    r = 3.3
    shapes.append(dict(type="circle", xref="paper", yref="paper", x0=PX(cx - r), x1=PX(cx + r),
                       y0=PY(cy + r), y1=PY(cy - r), fillcolor=color if filled else "white",
                       line=dict(color=color, width=1.3)))
    text(cx + 4.5, cy, label, size=size, color="#333")


# legends
A_COLS = [98, 171, 244, 316, 390, 464, 538]
for (lab, col, filled), cx in zip(A_LEGEND_ROW1, A_COLS):
    circle_item(cx, 36, col, filled, lab)
for (lab, col, filled), cx in zip(A_LEGEND_ROW2, A_COLS):
    circle_item(cx, 49, col, filled, lab)
circle_item(1110, 36, "#ff0000", True, "Pre-filter Mean GC %")
circle_item(1207, 36, "#0000ff", True, "Post-filter Mean GC %")
circle_item(278, 288, "#ff0000", True, "Pre-filter Sequence Length")
circle_item(398, 288, "#1515ee", True, "Post-filter Sequence Length")
circle_item(521, 288, "#ff10ff", True, "Pre/Post Difference")
for (lab, col), lx in zip(D_LEGEND, [980, 1071, 1148, 1246]):
    shapes.append(dict(type="line", xref="paper", yref="paper", x0=PX(lx), x1=PX(lx + 7), y0=PY(314), y1=PY(314),
                       line=dict(color=col, width=1.5)))
    text(lx + 10, 314, lab, size=5.8, color="#444", bold=True)

# panel letters
for lab, x, y in [("A", 26, 41), ("B", 710, 41), ("C", 26, 281), ("D", 710, 300), ("E", 26, 545)]:
    text(x, y, lab, size=19, color="#111", bold=True)

# axis titles
text(32, 143, "Percent", size=7.5, color="#333", anchor="center", angle=-90)
text(345, 247, "Read Position", size=7.5, color="#333", anchor="center")
text(727, 136, "Read Count", size=7.5, color="#333", anchor="center", angle=-90)
text(1038, 247, "GC Content", size=7.5, color="#333", anchor="center")
text(32, 399, "Read Count", size=7.5, color="#333", anchor="center", angle=-90)
text(345, 524, "Sequence Length (bp)", size=7.5, color="#333", anchor="center")
text(718, 405, "Read Count", size=6.3, color="#333", anchor="center", angle=-90)
text(1043, 502, "Average (Median) Quality Score per read", size=6.3, color="#333", anchor="center")
text(30, 643, "Pre-filter Quality", size=7.5, color="#333", anchor="center", angle=-90)
text(30, 830, "Post-filter Quality", size=7.5, color="#333", anchor="center", angle=-90)
text(697, 966, "Read Position", size=7.5, color="#333", anchor="center")

# navigator glyphs
text(63, 1020, "\u25c2", size=7, color="#666", anchor="center")
text(1333, 1020, "\u25b8", size=7, color="#666", anchor="center")
annotations.append(dict(x=(NAV_SELECTED[0] + NAV_SELECTED[1]) / 2, y=PY(1020), xref="x7", yref="paper",
                        text="III", showarrow=False, xanchor="center", yanchor="middle",
                        font=dict(family=FONT, size=6, color="#777")))

# caption
for i, line_txt in enumerate(CAPTION_LINES):
    text(23, 1075 + i * 25.36, line_txt, size=18.1, color="#2a2a2a", family=CAP_FONT)

layout["shapes"] = shapes
layout["annotations"] = annotations
fig.update_layout(**layout)
fig.write_html("out.html")
